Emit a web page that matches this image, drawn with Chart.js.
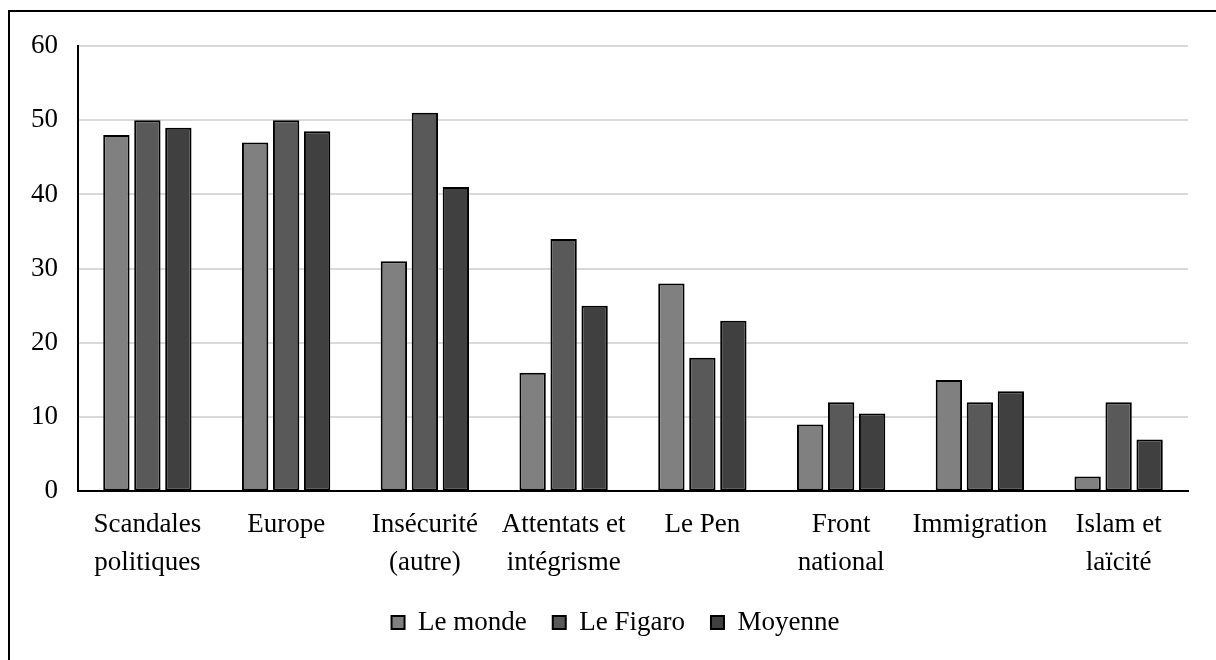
<!DOCTYPE html>
<html>
<head>
<meta charset="utf-8">
<script src="https://cdn.jsdelivr.net/npm/chart.js@4/dist/chart.umd.min.js"></script>
<style>
  html, body { margin: 0; padding: 0; background: #fff; overflow: hidden; }
  #wrap { position: relative; width: 1216px; height: 660px; }
  #frame { position: absolute; left: 8px; top: 10px; width: 1300px; height: 800px; border: 2px solid #000; box-sizing: border-box; }
  #c { position: absolute; left: 0; top: 0; }
</style>
</head>
<body>
<div id="wrap">
  <div id="frame"></div>
  <canvas id="c" width="1216" height="660"></canvas>
</div>
<script>
const categories = [
  ["Scandales", "politiques"],
  ["Europe"],
  ["Insécurité", "(autre)"],
  ["Attentats et", "intégrisme"],
  ["Le Pen"],
  ["Front", "national"],
  ["Immigration"],
  ["Islam et", "laïcité"]
];
const leMonde  = [48, 47, 31, 16, 28, 9, 15, 2];
const leFigaro = [50, 50, 51, 34, 18, 12, 12, 12];
const moyenne  = [49, 48.5, 41, 25, 23, 10.5, 13.5, 7];
const seriesNames = ["Le monde", "Le Figaro", "Moyenne"];
const yTicks = [0, 10, 20, 30, 40, 50, 60];

const FONT = "'Liberation Serif', 'Times New Roman', serif";

const shiftLegend = {
  id: 'shiftLegend',
  afterLayout(chart) {
    if (chart.legend) { chart.legend.left += 16; chart.legend.right += 16; }
  }
};

new Chart(document.getElementById('c'), {
  type: 'bar',
  data: {
    labels: categories,
    datasets: [
      { label: seriesNames[0], data: leMonde,  backgroundColor: '#808080' },
      { label: seriesNames[1], data: leFigaro, backgroundColor: '#595959' },
      { label: seriesNames[2], data: moyenne,  backgroundColor: '#404040' }
    ]
  },
  plugins: [shiftLegend],
  options: {
    responsive: false,
    animation: false,
    events: [],
    layout: { padding: { left: 11, right: 28, top: 46, bottom: 14 } },
    datasets: { bar: { categoryPercentage: 0.67, barPercentage: 0.85, borderColor: '#000', borderWidth: 2, borderSkipped: false } },
    plugins: {
      legend: {
        position: 'bottom',
        labels: {
          font: { family: FONT, size: 27 },
          color: '#000',
          boxWidth: 13,
          boxHeight: 13,
          padding: 26,
          useBorderRadius: false
        }
      },
      tooltip: { enabled: false }
    },
    scales: {
      x: {
        grid: { display: false, drawTicks: false },
        border: { color: '#000', width: 2 },
        afterFit: (scale) => { scale.height -= 14; },
        ticks: {
          font: { family: FONT, size: 27, lineHeight: 1.4 },
          color: '#000',
          padding: 15,
          maxRotation: 0,
          autoSkip: false
        }
      },
      y: {
        min: 0,
        max: 60,
        afterBuildTicks: (axis) => { axis.ticks = yTicks.map(v => ({ value: v })); },
        grid: { color: '#d9d9d9', lineWidth: 2, drawTicks: false },
        border: { color: '#000', width: 2 },
        ticks: {
          font: { family: FONT, size: 27 },
          color: '#000',
          padding: 20
        }
      }
    }
  }
});
</script>
</body>
</html>
